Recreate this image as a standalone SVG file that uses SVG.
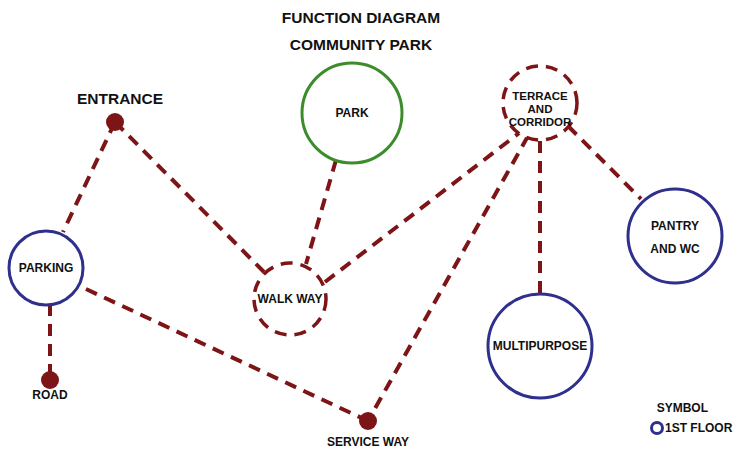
<svg xmlns="http://www.w3.org/2000/svg" width="735" height="450" viewBox="0 0 735 450">
<style>
text{font-family:"Liberation Sans",Arial,sans-serif;font-weight:bold;fill:#111;text-anchor:middle}
.t{font-size:15.5px}
.l{font-size:12px}
.s{font-size:11.5px}
.c{stroke:#7d1416;stroke-width:4;stroke-dasharray:12 8;fill:none}
.b{fill:#fff;stroke:#2f2f8e;stroke-width:3}
.g{fill:#fff;stroke:#3c8c2c;stroke-width:3}
.d{fill:#fff;stroke:#7d1416;stroke-width:3.5;stroke-dasharray:12 8}
.dot{fill:#7d1416}
</style>
<rect width="735" height="450" fill="#fff"/>
<text x="361" y="23" class="t">FUNCTION DIAGRAM</text>
<text x="361" y="50" class="t">COMMUNITY PARK</text>
<g id="connectors">
<line class="c" x1="115" y1="122" x2="63" y2="232"/>
<line class="c" x1="115" y1="122" x2="264" y2="272"/>
<line class="c" x1="336" y1="160" x2="306" y2="264"/>
<line class="c" x1="325" y1="282" x2="523" y2="130"/>
<line class="c" x1="528" y1="136" x2="368" y2="421"/>
<line class="c" x1="86" y1="289" x2="368" y2="421"/>
<line class="c" x1="50" y1="304" x2="50" y2="380"/>
<line class="c" x1="540" y1="141" x2="540" y2="295"/>
<line class="c" x1="568" y1="126" x2="641" y2="199"/>
</g>
<g id="entrance">
<circle class="dot" cx="115" cy="122" r="9"/>
<text x="120" y="104" class="t">ENTRANCE</text>
</g>
<g id="park">
<circle class="g" cx="352" cy="113" r="50"/>
<text x="352" y="117" class="l">PARK</text>
</g>
<g id="terrace">
<circle class="d" cx="540" cy="103" r="37"/>
<text x="540" y="100" class="s">TERRACE</text>
<text x="540" y="113" class="s">AND</text>
<text x="540" y="126" class="s">CORRIDOR</text>
</g>
<g id="parking">
<circle class="b" cx="46" cy="268" r="37"/>
<text x="46" y="272" class="l">PARKING</text>
</g>
<g id="walkway">
<circle class="d" cx="290" cy="299" r="36"/>
<text x="290" y="303" class="l">WALK WAY</text>
</g>
<g id="pantry">
<circle class="b" cx="675" cy="236" r="47"/>
<text x="675" y="230" class="l">PANTRY</text>
<text x="675" y="253" class="l">AND WC</text>
</g>
<g id="multipurpose">
<circle class="b" cx="540" cy="346" r="52"/>
<text x="540" y="350" class="l">MULTIPURPOSE</text>
</g>
<g id="road">
<circle class="dot" cx="50" cy="380" r="9"/>
<text x="50" y="399" class="l">ROAD</text>
</g>
<g id="serviceway">
<circle class="dot" cx="368" cy="421" r="9"/>
<text x="368" y="446" class="l">SERVICE WAY</text>
</g>
<g id="legend">
<text x="708" y="412" class="l" style="text-anchor:end">SYMBOL</text>
<circle cx="657" cy="428" r="5.5" fill="#fff" stroke="#2f2f8e" stroke-width="3"/>
<text x="665" y="432" class="l" style="text-anchor:start">1ST FLOOR</text>
</g>
</svg>
